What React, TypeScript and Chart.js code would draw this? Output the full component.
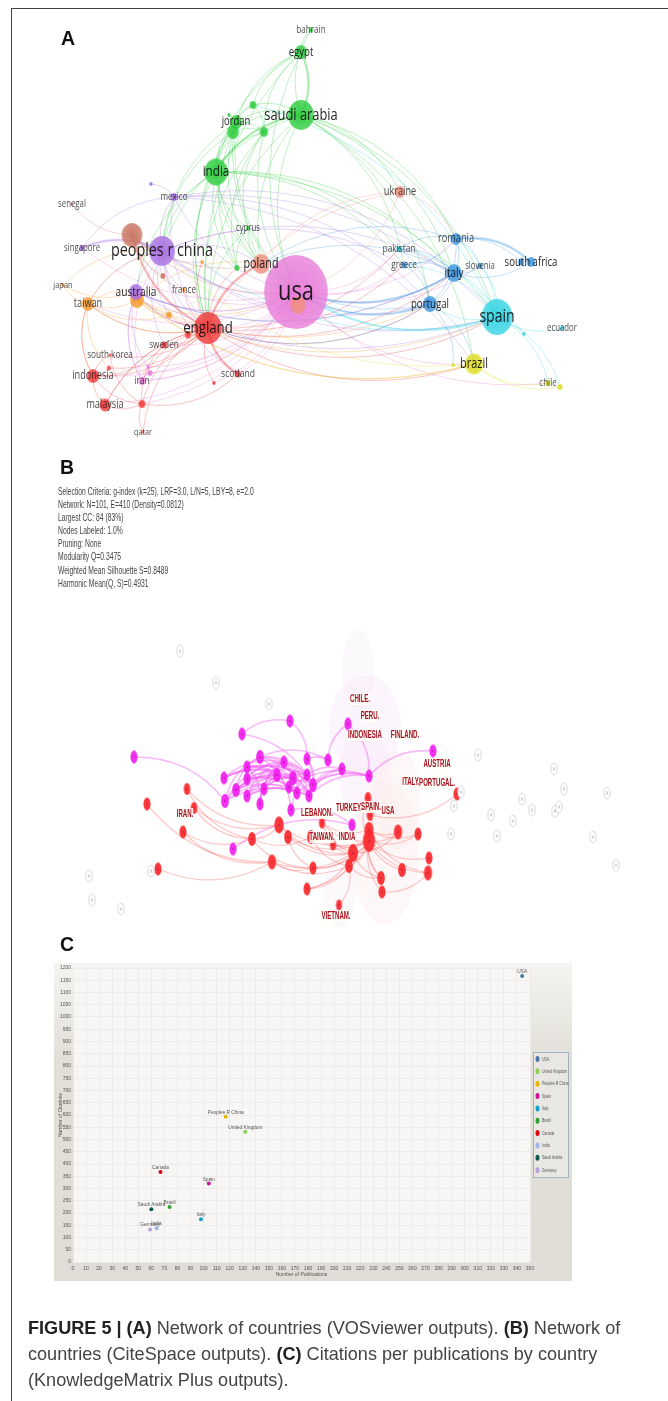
import React, { useEffect, useRef } from "react";
import { Chart, registerables } from "chart.js";
Chart.register(...registerables);

/* ---------- Panel A: VOSviewer network ---------- */
const aNames = ["_o2","japan","_o1","taiwan","_o3","france","usa","_usain","poland","ukraine","_brown","_b2","senegal",
  "bahrain","egypt","saudi arabia","_g1","_g2","jordan","_g3","_g4","india","_g5","cyprus",
  "mexico","_p1","singapore","peoples r china","australia","_pk1","_pk2","iran",
  "england","_r1","sweden","south korea","_r2","indonesia","malaysia","_r3","_r4","scotland","qatar",
  "romania","greece","slovenia","italy","_sa1","south africa","portugal","pakistan","spain","_c1","ecuador","brazil","_y1","chile","_y2"];
const aX = [137,63,202,88,169,184,296,298,261,400,132,163,72,
  311,301,301,253,229,236,233,264,216,237,248,
  174,151,82,162,136,148,150,142,
  208,188,164,110,109,93,105,142,214,238,143,
  456,404,480,454,521,531,430,399,497,524,562,474,453,548,560];
const aY = [300,285,262,304,315,290,292,305,264,192,235,276,204,
  30,52,115,105,115,122,132,132,172,268,228,
  197,184,248,251,292,367,373,381,
  328,335,345,355,368,376,405,404,383,374,432,
  239,265,266,273,262,262,304,249,317,334,328,364,365,383,387];
const aSize = [8,2,2,7,3.5,2,37,9,10,6,12,3,1.5,
  2.5,7,15,4,2,7,7,5,13.5,3,2,
  4,2,3,15,8,2,3,4,
  16,3.5,3.5,1.5,2.5,7,6.5,4,2,3.5,1.5,
  6,3.5,3,9,3.5,5,8,3,18,2,2.5,10.5,2,3,3];
const aCluster = ["orange","orange","orange","orange","orange","orange","pink","salmon","salmon","salmon","brown","brown","brown",
  "green","green","green","green","green","green","green","green","green","green","green",
  "purple","purple","purple","purple","purple","pink","pink","pink",
  "red","red","red","red","red","red","red","red","red","red","red",
  "blue","blue","blue","blue","blue","blue","blue","teal","cyan","cyan","cyan","yellow","yellow","yellow","yellow"];
const aLabelFont: Record<string, number> = {
  "usa":28,"peoples r china":18.4,"england":17,"spain":18,"saudi arabia":16.5,"india":15,"brazil":14,"poland":13.8,"italy":12.8,
  "portugal":12.4,"jordan":12.1,"australia":13,"taiwan":11.7,"indonesia":11.7,"malaysia":11.7,"romania":11.8,"south africa":12.3,
  "pakistan":10.7,"greece":10.5,"slovenia":10,"ukraine":11.8,"ecuador":10,"chile":10.3,"scotland":11,"sweden":10.6,"iran":10.5,
  "france":10.4,"south korea":10.5,"singapore":10,"japan":9.6,"cyprus":10,"mexico":10.4,"senegal":10,"bahrain":10.4,"egypt":12.3,"qatar":9.2,
};
const aLinks: [string, string[]][] = [
  ["saudi arabia",["egypt","bahrain","india","jordan","_g3","_g4","_g1","peoples r china","england","usa","spain","romania","italy","portugal","poland","ukraine","brazil","greece"]],
  ["egypt",["bahrain","_g1","jordan","india","usa","_g4","england"]],
  ["jordan",["_g1","_g2","_g4","india","usa","england","peoples r china"]],
  ["india",["_g3","_g4","usa","england","peoples r china","poland","spain","australia","pakistan","greece","italy","cyprus","_g5"]],
  ["_g3",["_g4","usa","england","peoples r china","poland","_g1","_g5"]],
  ["_g4",["usa","england","cyprus","_g1","_g5"]],
  ["cyprus",["england","usa","poland","_g5"]],
  ["mexico",["_p1","peoples r china","usa","england","spain","singapore","portugal","italy","brazil"]],
  ["peoples r china",["_brown","england","usa","australia","taiwan","singapore","poland","france","spain","italy","portugal","sweden","greece","scotland","_b2","_o3","_o1"]],
  ["_brown",["senegal","usa","england","poland","france","_b2"]],
  ["usa",["poland","england","brazil","greece","romania","pakistan","slovenia","chile","australia","taiwan","iran","indonesia","malaysia","sweden","scotland","_r4","_pk2","france","singapore","_pk1","_r3","_o1"]],
  ["ukraine",["usa","england","romania","poland"]],
  ["england",["poland","spain","australia","taiwan","_o3","_r1","sweden","scotland","_r4","_r3","indonesia","malaysia","south korea","_r2","qatar","france","italy","portugal","brazil","_o1","pakistan","greece","iran","_g5"]],
  ["spain",["italy","portugal","romania","slovenia","_c1","ecuador","chile","_y2","greece","pakistan","usa","_o1","_g1"]],
  ["portugal",["italy","romania","brazil","greece","pakistan","_y1","poland","england","usa"]],
  ["romania",["italy","_sa1","south africa","greece","pakistan","slovenia","poland"]],
  ["italy",["slovenia","south africa","greece","pakistan","poland","australia","usa"]],
  ["brazil",["_y1","chile","_y2","_o2","peoples r china"]],
  ["taiwan",["japan","australia","_o3","_o2","peoples r china","england","_r2","indonesia"]],
  ["_o2",["brazil","_o3","usa","spain","poland","portugal"]],
  ["japan",["peoples r china","australia"]],
  ["indonesia",["malaysia","_r2","_r3","south korea","sweden","taiwan"]],
  ["malaysia",["_r3","england"]],
  ["_r3",["qatar","scotland","sweden","south korea"]],
  ["iran",["_pk1","_pk2","australia","peoples r china","usa"]],
  ["australia",["_pk1","iran","usa","spain","england","italy"]],
];
const aThickLinks = [["spain","usa"],["romania","south africa"],["saudi arabia","india"],["england","poland"],["england","_brown"],["_brown","peoples r china"],["england","scotland"],["saudi arabia","egypt"],["italy","usa"],["portugal","usa"],["peoples r china","singapore"]];

/* ---------- Panel B: CiteSpace network ---------- */
const bMagentaX = [134,242,290,348,260,284,307,328,342,247,224,247,277,293,307,313,289,297,309,236,264,225,247,260,291,233,352,369,433];
const bMagentaY = [757,734,721,724,757,762,759,760,769,767,778,779,775,778,775,785,787,793,796,790,789,801,796,804,810,849,825,776,751];
const bMagentaSize = [6.5,6.5,6.5,6.5,7,6.5,6.5,6.5,6.5,6.5,6.5,6.5,7,7,6.5,7,6.5,6.5,6.5,7,6.5,7,6.5,6.5,6.5,6.5,6.5,6.5,6.5];
const bRedX = [187,194,147,183,158,279,252,288,322,311,333,272,313,353,349,307,339,368,370,369,369,398,418,429,428,402,381,382,457];
const bRedY = [789,808,804,832,869,825,839,837,823,837,845,862,868,853,866,889,905,798,815,841,830,832,834,858,873,870,878,892,794];
const bRedSize = [6,6,6.5,6.5,6.5,8.5,7,7,5.5,7,5.5,7.5,6.5,9,7,6.5,5.5,6,6,11,8,7.5,6.5,6.5,7.5,7,7,6.5,6.5];
const bGrayX = [180,216,269,151,89,92,121,478,461,454,451,491,497,513,522,532,555,559,554,564,607,593,616];
const bGrayY = [651,683,704,871,876,900,909,755,792,806,834,815,836,821,799,810,811,807,769,789,793,837,865];
const bMagentaLinks = [[0,21],[1,2],[1,15],[2,6],[3,27],[3,7],[7,4],[6,7],[28,27],[27,18],[27,15],[27,17],[27,16],[8,15],[8,18],[8,14],[25,26],[24,26],
  [10,5],[10,12],[10,13],[10,14],[9,12],[9,13],[9,15],[9,16],[11,5],[11,12],[11,14],[11,16],[11,17],[19,4],[19,12],[19,13],[19,15],[19,17],[21,4],[21,5],[21,12],[21,16],[21,18],
  [22,5],[22,12],[22,13],[22,18],[22,17],[23,12],[20,13],[20,14],[20,5],[4,14],[4,15],[4,18],[5,15],[5,17],[5,18],[12,15],[12,18],[13,18],[14,17],[16,18],[6,15],[6,18],[23,5],[23,9],[24,4],[24,5]];
const bRedLinks = [[0,5],[0,6],[1,5],[1,6],[2,11],[3,6],[3,11],[4,11],[5,6],[5,7],[5,13],[5,19],[6,9],[6,12],[7,12],[7,13],[7,19],[8,19],[8,13],[9,19],[9,14],[10,19],[11,13],[11,12],[11,14],[12,13],[12,19],[15,13],[15,14],[15,19],[16,14],[14,19],[13,19],[17,19],[18,19],[20,21],[20,22],[19,21],[19,22],[19,23],[19,24],[19,25],[19,26],[19,27],[26,20],[27,24],[20,24],[13,21],[13,26],[18,28],[14,26],[8,20],[10,13]];
const bLabels = ["CHILE.","PERU.","INDONESIA","FINLAND.","AUSTRIA","ITALY.","PORTUGAL.","TURKEY.","SPAIN.","USA","LEBANON.","TAIWAN.","INDIA","IRAN.","VIETNAM."];
const bLabelX = [360,370,365,405,437,411,437,349,371,388,317,322,347,185,336];
const bLabelY = [699,716,735,735,764,782,783,808,807,811,813,837,837,814,916];
const bHullX = [358,365,365,385,397,340];
const bHullY = [670,725,775,852,800,890];
const bHullRx = [16,36,26,34,24,16];
const bHullRy = [40,50,45,72,50,38];
const bHullTone = ["gray","pink","pink","red","red","gray"];
const bInfo = ["Selection Criteria: g-index (k=25), LRF=3.0, L/N=5, LBY=8, e=2.0","Network: N=101, E=410 (Density=0.0812)","Largest CC: 84 (83%)","Nodes Labeled: 1.0%","Pruning: None","Modularity Q=0.3475","Weighted Mean Silhouette S=0.8489","Harmonic Mean(Q, S)=0.4931"];

/* ---------- Panel C: KnowledgeMatrix scatter ---------- */
const cCountries = ["USA","United Kingdom","Peoples R China","Spain","Italy","Brazil","Canada","India","Saudi Arabia","Germany"];
const cPublications = [344,132,117,104,98,74,67,64,60,59];
const cCitations = [1167,532,593,320,175,224,367,138,215,133];
const cColors = ["#4f75a8","#8fce5a","#e6b800","#d4109a","#10a0c8","#30a030","#e00010","#a0b4e8","#0f5a50","#b8a0e0"];

const palette: Record<string, string> = {
  green:"47,204,63", red:"239,58,58", salmon:"240,143,128", brown:"200,115,95", purple:"168,111,226", pink:"232,123,217",
  orange:"245,154,46", blue:"63,151,224", cyan:"51,211,227", yellow:"222,221,34", teal:"43,188,196",
};

function sprite(rx: number, ry: number, paint: (c: CanvasRenderingContext2D, cx: number, cy: number) => void) {
  const cv = document.createElement("canvas");
  cv.width = Math.ceil(rx * 2) + 4;
  cv.height = Math.ceil(ry * 2) + 4;
  const c = cv.getContext("2d")!;
  paint(c, cv.width / 2, cv.height / 2);
  return cv;
}
function vosNode(r: number, rgb: string) {
  const rx = r * 0.86;
  return sprite(rx, r, (c, cx, cy) => {
    c.translate(cx, cy);
    c.scale(0.86, 1);
    const g = c.createRadialGradient(0, 0, 0, 0, 0, r);
    g.addColorStop(0, `rgba(${rgb},0.95)`);
    g.addColorStop(1, `rgba(${rgb},0.78)`);
    c.fillStyle = g;
    c.beginPath();
    c.arc(0, 0, r, 0, Math.PI * 2);
    c.fill();
  });
}
function citeNode(ry: number, color: string) {
  const rx = ry * 0.55;
  return sprite(rx, ry, (c, cx, cy) => {
    c.fillStyle = color;
    c.beginPath();
    c.ellipse(cx, cy, rx, ry, 0, 0, Math.PI * 2);
    c.fill();
    c.fillStyle = "rgba(120,0,40,0.5)";
    c.beginPath();
    c.ellipse(cx, cy, 0.5, 1.2, 0, 0, Math.PI * 2);
    c.fill();
  });
}
function grayNode() {
  return sprite(3.2, 6, (c, cx, cy) => {
    c.fillStyle = "#fff";
    c.strokeStyle = "#d4d4d4";
    c.lineWidth = 1;
    c.beginPath();
    c.ellipse(cx, cy, 3.2, 6, 0, 0, Math.PI * 2);
    c.fill();
    c.stroke();
    c.fillStyle = "#aaa";
    c.fillRect(cx - 0.5, cy - 1.5, 1, 3);
  });
}
function hull(rx: number, ry: number, tone: string) {
  const col = tone === "gray" ? "245,240,245" : tone === "pink" ? "250,232,250" : "253,235,235";
  return sprite(rx, ry, (c, cx, cy) => {
    c.fillStyle = `rgba(${col},0.42)`;
    c.beginPath();
    c.ellipse(cx, cy, rx, ry, 0, 0, Math.PI * 2);
    c.fill();
  });
}

function arc(ctx: CanvasRenderingContext2D, x0: number, y0: number, x1: number, y1: number, qx: number, qy: number) {
  ctx.beginPath();
  ctx.moveTo(x0, y0);
  ctx.quadraticCurveTo(qx, qy, x1, y1);
  ctx.stroke();
}

function narrowText(ctx: CanvasRenderingContext2D, text: string, x: number, y: number, squeeze: number) {
  ctx.save();
  ctx.translate(x, y);
  ctx.scale(squeeze, 1);
  ctx.fillText(text, 0, 0);
  ctx.restore();
}

const hiddenScales = (h: number, top: number) => ({
  x: { type: "linear", min: 0, max: 668, display: false },
  y: { type: "linear", min: top, max: top + h, reverse: true, display: false },
});

export default function App() {
  const aRef = useRef<HTMLCanvasElement>(null);
  const bRef = useRef<HTMLCanvasElement>(null);
  const cRef = useRef<HTMLCanvasElement>(null);

  useEffect(() => {
    const idx = (n: string) => aNames.indexOf(n);
    const aEdges = {
      id: "aEdges",
      beforeDatasetsDraw(ch: any) {
        const { ctx, scales } = ch;
        const px = (n: string) => [scales.x.getPixelForValue(aX[idx(n)]), scales.y.getPixelForValue(aY[idx(n)])];
        const cx = scales.x.getPixelForValue(300), cy = scales.y.getPixelForValue(270);
        const draw = (a: string, b: string, rgb: string, w: number, alpha: number) => {
          const [x0, y0] = px(a), [x1, y1] = px(b);
          const mx = (x0 + x1) / 2, my = (y0 + y1) / 2;
          let nx = -(y1 - y0), ny = x1 - x0;
          if (nx * (mx - cx) + ny * (my - cy) < 0) { nx = -nx; ny = -ny; }
          ctx.strokeStyle = `rgba(${rgb},${alpha})`;
          ctx.lineWidth = w;
          arc(ctx, x0, y0, x1, y1, mx + nx * 0.24, my + ny * 0.24);
        };
        ctx.save();
        aLinks.forEach(([from, tos]) => {
          const rgb = palette[aCluster[idx(from)]];
          tos.forEach((t) => draw(from, t, rgb, 1, 0.3));
        });
        aThickLinks.forEach(([f, t]) => draw(f, t, palette[aCluster[idx(f)]], 2.6, 0.26));
        ctx.restore();
      },
      afterDatasetsDraw(ch: any) {
        const { ctx, scales } = ch;
        ctx.save();
        ctx.textAlign = "center";
        ctx.textBaseline = "middle";
        aNames.forEach((n, i) => {
          if (n.startsWith("_")) return;
          const size = aLabelFont[n] || 10;
          ctx.font = `${size}px "Open Sans"`;
          ctx.fillStyle = size > 12 ? "rgba(15,15,15,0.92)" : "rgba(30,30,30,0.82)";
          narrowText(ctx, n, scales.x.getPixelForValue(aX[i]), scales.y.getPixelForValue(aY[i]), 0.78);
        });
        ctx.restore();
      },
    };
    const chartA = new Chart(aRef.current!, {
      type: "scatter",
      data: {
        datasets: [{
          data: aX.map((x, i) => ({ x, y: aY[i] })),
          pointStyle: aSize.map((r, i) => vosNode(r, palette[aCluster[i]])) as any,
          clip: false as any,
        }],
      },
      options: {
        animation: false, responsive: false, events: [],
        layout: { padding: 0, autoPadding: false },
        plugins: { legend: { display: false }, tooltip: { enabled: false } },
        scales: hiddenScales(450, 0) as any,
      },
      plugins: [aEdges],
    });

    const bEdges = {
      id: "bEdges",
      beforeDatasetsDraw(ch: any) {
        const { ctx, scales } = ch;
        const link = (xs: number[], ys: number[], i: number, j: number, rgb: string, alpha: number, dir: number, w: number) => {
          const x0 = scales.x.getPixelForValue(xs[i]), y0 = scales.y.getPixelForValue(ys[i]);
          const x1 = scales.x.getPixelForValue(xs[j]), y1 = scales.y.getPixelForValue(ys[j]);
          let nx = -(y1 - y0), ny = x1 - x0;
          if (ny * dir < 0) { nx = -nx; ny = -ny; }
          ctx.strokeStyle = `rgba(${rgb},${alpha})`;
          ctx.lineWidth = w;
          arc(ctx, x0, y0, x1, y1, (x0 + x1) / 2 + nx * 0.25, (y0 + y1) / 2 + ny * 0.25);
        };
        ctx.save();
        // translucent cluster hulls sit beneath every edge
        bHullX.forEach((x, i) => {
          const s = hull(bHullRx[i], bHullRy[i], bHullTone[i]);
          ctx.drawImage(s, scales.x.getPixelForValue(x) - s.width / 2, scales.y.getPixelForValue(bHullY[i]) - s.height / 2);
        });
        bRedLinks.forEach(([i, j]) => link(bRedX, bRedY, i, j, "250,90,90", 0.32, 1, 1.3));
        bMagentaLinks.forEach(([i, j]) => link(bMagentaX, bMagentaY, i, j, "240,80,240", 0.4, -1, 1.6));
        ctx.restore();
      },
      afterDatasetsDraw(ch: any) {
        const { ctx, scales } = ch;
        ctx.save();
        ctx.textAlign = "center";
        ctx.textBaseline = "middle";
        ctx.font = 'bold 10.5px "Liberation Sans"';
        bLabels.forEach((t, i) => {
          const x = scales.x.getPixelForValue(bLabelX[i]), y = scales.y.getPixelForValue(bLabelY[i]);
          const w = ctx.measureText(t).width * 0.58;
          ctx.fillStyle = "rgba(255,255,248,0.85)";
          ctx.fillRect(x - w / 2, y - 6, w, 12);
          ctx.fillStyle = "#a5101f";
          narrowText(ctx, t, x, y, 0.58);
        });
        ctx.restore();
      },
    };
    const chartB = new Chart(bRef.current!, {
      type: "scatter",
      data: {
        datasets: [
          { data: bGrayX.map((x, i) => ({ x, y: bGrayY[i] })), pointStyle: bGrayX.map(() => grayNode()) as any, clip: false as any },
          { data: bRedX.map((x, i) => ({ x, y: bRedY[i] })), pointStyle: bRedSize.map((r) => citeNode(r, "rgba(250,45,50,0.95)")) as any, clip: false as any },
          { data: bMagentaX.map((x, i) => ({ x, y: bMagentaY[i] })), pointStyle: bMagentaSize.map((r) => citeNode(r, "rgba(240,30,240,0.92)")) as any, clip: false as any },
        ],
      },
      options: {
        animation: false, responsive: false, events: [],
        layout: { padding: 0, autoPadding: false },
        plugins: { legend: { display: false }, tooltip: { enabled: false } },
        scales: hiddenScales(330, 610) as any,
      },
      plugins: [bEdges],
    });

    const cDecor = {
      id: "cDecor",
      beforeDraw(ch: any) {
        const { ctx, width, height, chartArea: a } = ch;
        const g = ctx.createLinearGradient(0, 0, 0, height);
        g.addColorStop(0, "#f5f4f1");
        g.addColorStop(0.3, "#e2dfd9");
        g.addColorStop(1, "#e0dcd6");
        ctx.fillStyle = g;
        ctx.fillRect(0, 0, width, height);
        ctx.fillStyle = "#f7f6f4";
        ctx.fillRect(a.left, a.top, a.right - a.left, a.bottom - a.top);
      },
      afterDatasetsDraw(ch: any) {
        const { ctx, scales } = ch;
        ctx.save();
        ctx.textAlign = "center";
        ctx.textBaseline = "alphabetic";
        ctx.font = '6px "Liberation Sans"';
        ctx.fillStyle = "#555";
        cCountries.forEach((n, i) => {
          narrowText(ctx, n, scales.x.getPixelForValue(cPublications[i]), scales.y.getPixelForValue(cCitations[i]) - 3, 0.8);
        });
        // legend box
        const bx = 479, by = 89, bw = 35, bh = 125;
        ctx.fillStyle = "#e9e7e3";
        ctx.strokeStyle = "#9fb3c4";
        ctx.lineWidth = 1;
        ctx.fillRect(bx, by, bw, bh);
        ctx.strokeRect(bx + 0.5, by + 0.5, bw, bh);
        ctx.textAlign = "left";
        ctx.textBaseline = "middle";
        ctx.font = '5.5px "Liberation Sans"';
        cCountries.forEach((n, i) => {
          const y = by + 7 + i * 12.35;
          ctx.fillStyle = cColors[i];
          ctx.beginPath();
          ctx.ellipse(bx + 4.5, y, 2, 3, 0, 0, Math.PI * 2);
          ctx.fill();
          ctx.fillStyle = "#555";
          narrowText(ctx, n, bx + 9, y, 0.64);
        });
        ctx.restore();
      },
    };
    const tick = { color: "#555", font: { size: 5, family: "Liberation Sans" }, autoSkip: false, maxRotation: 0, callback: (v: any) => String(v) };
    const chartC = new Chart(cRef.current!, {
      type: "scatter",
      data: {
        datasets: [{
          data: cPublications.map((x, i) => ({ x, y: cCitations[i] })),
          pointRadius: 2,
          pointBackgroundColor: cColors,
          pointBorderWidth: 0,
        }],
      },
      options: {
        animation: false, responsive: false, events: [],
        layout: { padding: { left: 0, right: 42, top: 4, bottom: 0 }, autoPadding: false },
        plugins: { legend: { display: false }, tooltip: { enabled: false } },
        scales: {
          x: {
            type: "linear", min: 0, max: 350,
            ticks: { ...tick, stepSize: 10, padding: 4 },
            grid: { color: "#ecebe8", drawTicks: false },
            border: { display: false },
            title: { display: true, text: "Number of Publications", color: "#555", font: { size: 5, family: "Liberation Sans" }, padding: { top: 0, bottom: 3 } },
            afterFit: (s: any) => { s.height = 19; },
          },
          y: {
            type: "linear", min: 0, max: 1200,
            ticks: { ...tick, stepSize: 50, padding: 2 },
            grid: { color: "#ecebe8", drawTicks: false },
            border: { display: false },
            title: { display: true, text: "Number of Citations", color: "#555", font: { size: 5, family: "Liberation Sans" }, padding: { top: 4, bottom: 0 } },
            afterFit: (s: any) => { s.width = 19; },
          },
        } as any,
      },
      plugins: [cDecor],
    });

    return () => { chartA.destroy(); chartB.destroy(); chartC.destroy(); };
  }, []);

  const abs = (left: number, top: number, extra: React.CSSProperties = {}): React.CSSProperties => ({ position: "absolute", left, top, ...extra });
  const panelLetter: React.CSSProperties = { fontFamily: '"Liberation Sans"', fontWeight: 700, fontSize: 19.5, color: "#111", lineHeight: "20px", filter: "blur(0.3px)" };
  const strong: React.CSSProperties = { color: "#222" };

  return (
    <div style={{ position: "absolute", left: 0, top: 0, width: 668, height: 1401, background: "#fff", overflow: "hidden", fontFamily: '"Liberation Sans"' }}>
      <canvas ref={aRef} width={668} height={450} style={abs(0, 0, { filter: "blur(0.45px)" })} />
      <canvas ref={bRef} width={668} height={330} style={abs(0, 610, { filter: "blur(0.45px)" })} />
      <canvas ref={cRef} width={518} height={318} style={abs(54, 963, { filter: "blur(0.4px)" })} />
      <div style={abs(11, 8, { width: 657, height: 1, background: "#444" })} />
      <div style={abs(11, 8, { width: 1, height: 1393, background: "#444" })} />
      <div style={abs(61, 28, panelLetter)}>A</div>
      <div style={abs(60, 457, panelLetter)}>B</div>
      <div style={abs(60, 934, panelLetter)}>C</div>
      <div style={abs(58, 485, { transform: "scaleX(0.615)", transformOrigin: "left top", whiteSpace: "nowrap", fontSize: 11, lineHeight: "13.1px", color: "#444", filter: "blur(0.3px)" })}>
        {bInfo.map((t) => <div key={t}>{t}</div>)}
      </div>
      <div style={abs(28, 1314.7, { width: 630, whiteSpace: "nowrap", fontSize: 18.1, lineHeight: "26px", color: "#444", filter: "blur(0.25px)" })}>
        <b style={strong}>FIGURE 5 | (A)</b> Network of countries (VOSviewer outputs). <b style={strong}>(B)</b> Network of<br />
        countries (CiteSpace outputs). <b style={strong}>(C)</b> Citations per publications by country<br />
        (KnowledgeMatrix Plus outputs).
      </div>
    </div>
  );
}
